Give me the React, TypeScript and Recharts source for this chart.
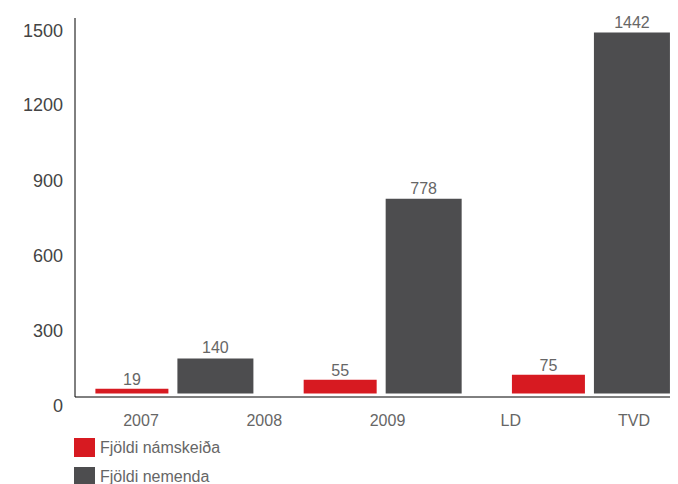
import React from 'react';
import { BarChart, Bar, XAxis, YAxis, Legend, LabelList } from 'recharts';

const groups = ['2007-2008', '2009', 'LD-TVD'];
const xLabels = ['2007', '2008', '2009', 'LD', 'TVD'];
const courses = [19, 55, 75];
const students = [140, 778, 1442];
const yTicks = [0, 300, 600, 900, 1200, 1500];

const RED = '#d71a21';
const GRAY = '#4d4d4f';
const FONT = '"Liberation Sans", Arial, sans-serif';

const data = groups.map((g, i) => ({ group: g, courses: courses[i], students: students[i] }));

// the label axis spans the group indices 0..2, five labels spread evenly over it
const labelStep = (groups.length - 1) / (xLabels.length - 1);
const labelTicks = xLabels.map((_, i) => i * labelStep);

const renderLegend = () => (
  <div style={{ paddingLeft: 66, marginTop: -3, fontFamily: FONT, fontSize: 16, color: '#666', textAlign: 'left' }}>
    {[
      { name: 'Fjöldi námskeiða', color: RED },
      { name: 'Fjöldi nemenda', color: GRAY },
    ].map((item) => (
      <div key={item.name} style={{ display: 'flex', alignItems: 'center', height: 29 }}>
        <span style={{ display: 'inline-block', width: 21, height: 19, background: item.color, marginRight: 5 }} />
        <span>{item.name}</span>
      </div>
    ))}
  </div>
);

const App: React.FC = () => {
  return (
    <div style={{ width: 670, height: 476, fontFamily: FONT }}>
      <BarChart
        width={670}
        height={476}
        data={data}
        margin={{ top: 10, right: 0, left: 0, bottom: 0 }}
        barGap={9}
      >
        <XAxis xAxisId="bars" dataKey="group" hide height={0} padding={{ left: -4.6, right: -17.2 }} />
        <XAxis
          xAxisId="labels"
          type="number"
          domain={[0, groups.length - 1]}
          ticks={labelTicks}
          interval={0}
          allowDataOverflow
          tickFormatter={(v: number) => xLabels[Math.round(v / labelStep)]}
          padding={{ left: 66, right: 44 }}
          height={39}
          axisLine={{ stroke: '#000' }}
          tickLine={false}
          tickSize={0}
          tickMargin={18}
          tick={{ fontSize: 16, fill: '#666', fontFamily: FONT }}
        />
        <YAxis
          width={67}
          domain={[-14, 1500]}
          ticks={yTicks}
          allowDataOverflow
          axisLine={{ stroke: '#000' }}
          tickLine={false}
          tickSize={0}
          tickMargin={12}
          tick={{ fontSize: 18, fill: '#444', fontFamily: FONT, dy: 12 }}
        />
        <Legend verticalAlign="bottom" align="left" layout="horizontal" height={48} content={renderLegend} />
        <Bar xAxisId="bars" dataKey="courses" fill={RED} barSize={73} isAnimationActive={false}>
          <LabelList dataKey="courses" position="top" offset={4} style={{ fontSize: 16, fill: '#666', fontFamily: FONT }} />
        </Bar>
        <Bar xAxisId="bars" dataKey="students" fill={GRAY} barSize={76} isAnimationActive={false}>
          <LabelList dataKey="students" position="top" offset={5} style={{ fontSize: 16, fill: '#666', fontFamily: FONT }} />
        </Bar>
      </BarChart>
    </div>
  );
};

export default App;
